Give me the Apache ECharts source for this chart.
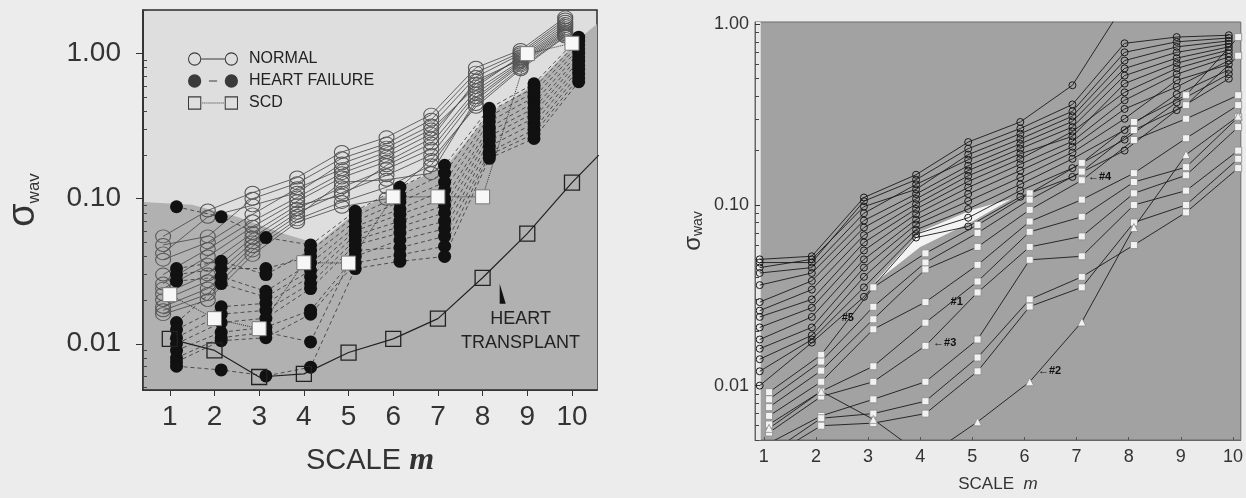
<!DOCTYPE html>
<html><head><meta charset="utf-8">
<script src="https://cdn.jsdelivr.net/npm/echarts@6/dist/echarts.min.js"></script>
<style>html,body{margin:0;padding:0;background:#ececec;}#c{width:1246px;height:498px;}</style>
</head><body><div id="c"></div>
<script>
// ================= DATA =================
const scales = [1,2,3,4,5,6,7,8,9,10];
const xTickLabels = ['1','2','3','4','5','6','7','8','9','10'];
const yMajorTicks = [0.01, 0.1, 1];
const yMinorTicks = [0.005,0.006,0.007,0.008,0.009,0.02,0.03,0.04,0.05,0.06,0.07,0.08,0.09,0.2,0.3,0.4,0.5,0.6,0.7,0.8,0.9,2];

// ---- left panel: sigma_wav per subject, scales 1..10 ----
const leftNormal = [
 [0.055,0.083,0.110,0.140,0.21,0.265,0.38,0.80,1.06,1.78],
 [0.048,0.055,0.100,0.128,0.19,0.24,0.35,0.74,1.02,1.72],
 [0.042,0.075,0.090,0.110,0.175,0.225,0.32,0.69,0.99,1.66],
 [0.038,0.050,0.078,0.118,0.16,0.21,0.30,0.59,0.96,1.60],
 [0.030,0.045,0.070,0.102,0.15,0.195,0.28,0.62,0.93,1.55],
 [0.026,0.040,0.064,0.096,0.14,0.18,0.26,0.65,0.91,1.50],
 [0.024,0.035,0.058,0.090,0.105,0.17,0.24,0.56,0.89,1.46],
 [0.022,0.030,0.054,0.085,0.12,0.16,0.22,0.53,0.87,1.42],
 [0.020,0.027,0.050,0.080,0.11,0.145,0.20,0.50,0.85,1.39],
 [0.018,0.024,0.047,0.076,0.13,0.135,0.15,0.48,0.83,1.36],
 [0.017,0.022,0.044,0.072,0.095,0.12,0.17,0.45,0.80,1.33],
 [0.016,0.020,0.041,0.069,0.088,0.10,0.185,0.43,0.78,1.31]
];
const leftHeartFailure = [
 [0.088,0.075,0.054,0.048,0.082,0.120,0.17,0.42,0.62,1.30],
 [0.033,0.037,0.030,0.044,0.076,0.105,0.15,0.40,0.58,1.22],
 [0.030,0.033,0.033,0.040,0.070,0.095,0.13,0.37,0.54,1.15],
 [0.027,0.029,0.023,0.036,0.064,0.085,0.115,0.34,0.50,1.08],
 [0.014,0.026,0.021,0.032,0.060,0.078,0.10,0.31,0.46,1.01],
 [0.0125,0.018,0.019,0.029,0.056,0.070,0.09,0.29,0.42,0.95],
 [0.011,0.016,0.017,0.026,0.052,0.064,0.08,0.27,0.39,0.89],
 [0.010,0.014,0.015,0.024,0.048,0.058,0.07,0.25,0.36,0.83],
 [0.009,0.012,0.013,0.017,0.040,0.052,0.062,0.23,0.33,0.78],
 [0.008,0.011,0.012,0.0103,0.044,0.046,0.055,0.21,0.30,0.73],
 [0.0075,0.0105,0.011,0.016,0.036,0.041,0.047,0.20,0.28,0.68],
 [0.007,0.0066,0.006,0.0069,0.033,0.037,0.040,0.19,0.26,0.64]
];
const leftSCD = [0.0218,0.0149,0.0127,0.0362,0.036,0.103,0.103,0.103,1.0,1.18];
const leftTransplant = [0.0108,0.0090,0.0059,0.0062,0.0087,0.0108,0.0149,0.0285,0.0574,0.129];
const leftTransplantEdge = [10.6, 0.20];          // where the line meets the frame
const leftShadeBoundary = [[0.4,0.095],[1.5,0.091],[2.5,0.075],[3.5,0.058],[4.3,0.049],[5.2,0.082],
  [6.2,0.122],[7.2,0.17],[8.2,0.40],[9.2,0.62],[10.2,1.3],[10.56,1.6]];
const leftNotes = [{text:'HEART\nTRANSPLANT', m:8.85, v:0.0122}];
const leftPointer = [8.45, 0.0221];

// ---- right panel ----
const rightNormal = [
 [0.050,0.052,0.110,0.147,0.223,0.288,0.46,1.30,1.90,2.50],
 [0.048,0.048,0.105,0.138,0.205,0.265,0.36,0.785,0.85,0.87],
 [0.045,0.050,0.098,0.122,0.190,0.248,0.33,0.70,0.80,0.84],
 [0.042,0.045,0.090,0.130,0.178,0.232,0.31,0.63,0.75,0.81],
 [0.036,0.042,0.082,0.115,0.165,0.218,0.29,0.57,0.70,0.78],
 [0.029,0.038,0.075,0.108,0.155,0.205,0.27,0.52,0.65,0.75],
 [0.026,0.034,0.068,0.101,0.145,0.192,0.24,0.47,0.61,0.72],
 [0.024,0.030,0.062,0.095,0.135,0.180,0.255,0.42,0.57,0.69],
 [0.021,0.027,0.056,0.089,0.125,0.168,0.225,0.38,0.53,0.66],
 [0.018,0.024,0.050,0.083,0.115,0.155,0.21,0.34,0.45,0.63],
 [0.016,0.021,0.045,0.078,0.105,0.142,0.195,0.30,0.49,0.60],
 [0.014,0.019,0.040,0.073,0.095,0.130,0.18,0.26,0.41,0.56],
 [0.012,0.018,0.035,0.069,0.085,0.120,0.16,0.23,0.37,0.53],
 [0.010,0.0173,0.031,0.066,0.076,0.111,0.143,0.20,0.335,0.50]
];
const rightHeartFailure = [
 [0.0092,0.0148,0.035,0.054,0.0775,0.116,0.171,0.288,0.405,0.85],
 [0.0084,0.0136,0.0273,0.048,0.070,0.107,0.153,0.26,0.357,0.67],
 [0.0076,0.0121,0.0233,0.044,0.0586,0.094,0.137,0.229,0.30,0.405],
 [0.0068,0.0105,0.0205,0.029,0.0466,0.081,0.107,0.15,0.234,0.357],
 [0.0061,0.0093,0.0128,0.0223,0.0377,0.071,0.086,0.134,0.162,0.306],
 [0.0055,0.0087,0.0105,0.0166,0.0328,0.0586,0.067,0.116,0.146,0.27],
 [0.0048,0.0068,0.0084,0.0105,0.018,0.0497,0.052,0.10,0.12,0.20],
 [0.0042,0.0066,0.0070,0.0082,0.0143,0.030,0.040,0.06,0.091,0.16],
 [0.0040,0.0060,0.0062,0.0070,0.012,0.0274,0.035,0.08,0.10,0.18]
];
const rightPatient2 = [0.0058,0.0093,0.0065,0.0040,0.0063,0.0105,0.0225,0.075,0.19,0.31];
const rightWedge = [[3.12,0.037],[4.0,0.071],[5.0,0.094],[5.75,0.108],[5.0,0.081],[4.0,0.0586]];
const rightNotes = [
 {text:'#1', m:4.7, v:0.029},
 {text:'←#2', m:6.48, v:0.012},
 {text:'←#3', m:4.47, v:0.0173},
 {text:'←#4', m:7.44, v:0.143},
 {text:'#5', m:2.61, v:0.0238}
];

// ================= LAYOUT / STYLE =================
const FONT = '"Liberation Sans", Arial, Helvetica, sans-serif';
const L = {x:[0.4,10.56], y:[0.0048,2.0]};
const R = {x:[0.83,10.15], y:[0.005,1.03]};
const SHIFT = {lN:-0.15, lH:0.15, lS:0, lT:0, rN:-0.08, rH:0.1};

function lineSeries(name, xi, yi, values, shift, sym, lineStyle) {
  return Object.assign({
    type:'line', name, xAxisIndex:xi, yAxisIndex:yi, clip:true, silent:true,
    data: values.map((v,i)=>[scales[i]+shift, v]),
    lineStyle
  }, sym);
}
function polygonSeries(xi, yi, pts, color) {
  return {type:'custom', xAxisIndex:xi, yAxisIndex:yi, silent:true, z:1, clip:true,
    data:[pts[0]], encode:{x:0,y:1},
    renderItem:(p, api)=>({type:'polygon', shape:{points:pts.map(q=>api.coord(q))}, style:{fill:color}})};
}

const series = [];
series.push(polygonSeries(0,0, leftShadeBoundary.concat([[L.x[1],L.y[0]],[L.x[0],L.y[0]]]), '#b1b1b1'));
leftNormal.forEach(r=>series.push(lineSeries('NORMAL',0,0,r,SHIFT.lN,
  {symbol:'circle', symbolSize:[15,13], itemStyle:{color:'rgba(0,0,0,0)', borderColor:'#555', borderWidth:1}},
  {color:'#444', width:0.8})));
leftHeartFailure.forEach(r=>series.push(lineSeries('HEART FAILURE',0,0,r,SHIFT.lH,
  {symbol:'circle', symbolSize:13, itemStyle:{color:'#111', borderWidth:0}},
  {color:'#333', width:0.8, type:[4,3]})));
series.push(lineSeries('SCD',0,0,leftSCD,SHIFT.lS,
  {symbol:'rect', symbolSize:14, itemStyle:{color:'#f7f7f7', borderColor:'#777', borderWidth:1}},
  {color:'#333', width:1, type:'dotted'}));
const ht = lineSeries('HEART TRANSPLANT',0,0,leftTransplant,SHIFT.lT,
  {symbol:'rect', symbolSize:15, itemStyle:{color:'rgba(0,0,0,0)', borderColor:'#222', borderWidth:1.3}},
  {color:'#222', width:1.2});
ht.data.push({value:leftTransplantEdge, symbol:'none'});
ht.markPoint = {silent:true, animation:false, data:[
  ...leftNotes.map(n=>({coord:[n.m,n.v], symbol:'rect', symbolSize:1, itemStyle:{color:'rgba(0,0,0,0)'},
    label:{show:true, position:'inside', formatter:n.text, fontSize:18, lineHeight:24, color:'#222', fontFamily:FONT}})),
  {coord:leftPointer, symbol:'path://M0,0L0,22L7,22Z', symbolSize:[6,20], itemStyle:{color:'#111'}, label:{show:false}}
]};
series.push(ht);

// right panel (yAxisIndex 2 = main log axis of the right grid)
series.push(polygonSeries(1,2, rightWedge, '#f3f3f3'));
rightNormal.forEach((r,k)=>{
  const s = lineSeries('R normal',1,2,r,SHIFT.rN,
    {symbol:'circle', symbolSize:7, itemStyle:{color:'rgba(0,0,0,0)', borderColor:'#1a1a1a', borderWidth:1}},
    {color:'#1a1a1a', width:0.9});
  if (k===0) s.markArea = {silent:true, itemStyle:{color:'#e9e9e9'}, data:[[{xAxis:R.x[0]},{xAxis:0.94}]]};
  series.push(s);
});
rightHeartFailure.forEach(r=>series.push(lineSeries('R hf',1,2,r,SHIFT.rH,
  {symbol:'rect', symbolSize:7, itemStyle:{color:'#f2f2f2', borderColor:'#8a8a8a', borderWidth:0.8}},
  {color:'#1a1a1a', width:0.9})));
const p2 = lineSeries('R hf2',1,2,rightPatient2,SHIFT.rH,
  {symbol:'triangle', symbolSize:8, itemStyle:{color:'#f2f2f2', borderColor:'#8a8a8a', borderWidth:0.8}},
  {color:'#1a1a1a', width:0.9});
p2.markPoint = {silent:true, animation:false, data: rightNotes.map(n=>({coord:[n.m,n.v], symbol:'rect', symbolSize:1,
  itemStyle:{color:'rgba(0,0,0,0)'}, label:{show:true, position:'inside', formatter:n.text, fontSize:11, fontWeight:'bold', color:'#111', fontFamily:FONT}}))};
series.push(p2);

// legend icons (50 x 14)
function ring(cx){return `M${cx-6.5},7A6.5,6.5,0,1,1,${cx+6.5},7A6.5,6.5,0,1,1,${cx-6.5},7ZM${cx-5.5},7A5.5,5.5,0,1,0,${cx+5.5},7A5.5,5.5,0,1,0,${cx-5.5},7Z`;}
function disc(cx){return `M${cx-6.5},7A6.5,6.5,0,1,1,${cx+6.5},7A6.5,6.5,0,1,1,${cx-6.5},7Z`;}
function sq(x){return `M${x},0.5L${x+13},0.5L${x+13},13.5L${x},13.5ZM${x+1},1.5L${x+1},12.5L${x+12},12.5L${x+12},1.5Z`;}
const iconNormal = 'path://' + ring(7) + 'M13.5,6.5L36.5,6.5L36.5,7.5L13.5,7.5Z' + ring(43);
const iconHF = 'path://' + disc(7) + 'M21,6.4L29,6.4L29,7.6L21,7.6Z' + disc(43);
let dots = ''; for (let x=14.5; x<35.5; x+=2) dots += `M${x},6.5L${x+1},6.5L${x+1},7.5L${x},7.5Z`;
const iconSCD = 'path://' + sq(0.5) + dots + sq(36.5);

function yAxes(grid, rng, major, labelFont, margin, nameOpts) {
  return [
    Object.assign({type:'log', gridIndex:grid, position:'left', z:5, min:rng[0], max:rng[1],
      axisLine:{show:true, lineStyle:{color: grid===0?'#2a2a2a':'#666', width: grid===0?1.5:1}},
      axisTick:{show:true, customValues:major, length: grid===0?7:5, inside: grid!==0, lineStyle:{color:'#333'}},
      axisLabel:{customValues:major, formatter:v=>v.toFixed(2), fontSize:labelFont, color:'#333', margin, fontFamily:FONT},
      splitLine:{show:false}, nameLocation:'middle', nameRotate:90}, nameOpts),
    {type:'log', gridIndex:grid, position:'left', offset:0, z:5, min:rng[0], max:rng[1], axisLine:{show:false},
      axisTick:{show:true, customValues:yMinorTicks, inside:true, length:4, lineStyle:{color:'#444'}},
      axisLabel:{show:false}, splitLine:{show:false}}
  ];
}

const option = {
  animation:false,
  backgroundColor:'#ececec',
  textStyle:{fontFamily:FONT},
  grid:[
    {left:143, top:10, width:454, height:380, show:true, backgroundColor:'#dedede', borderColor:'#2a2a2a', borderWidth:1.5},
    {left:755, top:22, width:487, height:418, show:true, backgroundColor:'#a2a2a2', borderColor:'#6a6a6a', borderWidth:1}
  ],
  legend:{left:183, top:46, orient:'vertical', itemWidth:50, itemHeight:14, itemGap:6, selectedMode:false,
    itemStyle:{color:'#3a3a3a', borderWidth:0},
    textStyle:{fontSize:16, color:'#222', fontFamily:FONT, padding:[0,0,0,6]},
    data:[{name:'NORMAL', icon:iconNormal},{name:'HEART FAILURE', icon:iconHF},{name:'SCD', icon:iconSCD}]},
  xAxis:[
    {type:'value', gridIndex:0, z:5, min:L.x[0], max:L.x[1],
      axisLine:{show:true, lineStyle:{color:'#2a2a2a', width:1.5}},
      axisTick:{customValues:scales, length:6, lineStyle:{color:'#333'}},
      axisLabel:{customValues:scales, formatter:v=>xTickLabels[scales.indexOf(v)], fontSize:28, color:'#333', margin:13},
      splitLine:{show:false},
      name:'{a|SCALE }{b|m}', nameLocation:'middle', nameGap:55,
      nameTextStyle:{rich:{a:{fontSize:29, color:'#333', fontFamily:FONT}, b:{fontSize:32, color:'#333', fontFamily:'"Liberation Serif", serif', fontStyle:'italic', fontWeight:'bold'}}}},
    {type:'value', gridIndex:1, z:5, min:R.x[0], max:R.x[1],
      axisLine:{show:true, lineStyle:{color:'#666', width:1}},
      axisTick:{customValues:scales, length:3, inside:true, lineStyle:{color:'#555'}},
      axisLabel:{customValues:scales, formatter:v=>xTickLabels[scales.indexOf(v)], fontSize:18, color:'#333', margin:8},
      splitLine:{show:false},
      name:'{a|SCALE  }{b|m}', nameLocation:'middle', nameGap:36,
      nameTextStyle:{rich:{a:{fontSize:17, color:'#333', fontFamily:FONT}, b:{fontSize:17, color:'#333', fontFamily:FONT, fontStyle:'italic'}}}}
  ],
  yAxis:[
    ...yAxes(0, L.y, yMajorTicks, 28, 22, {name:'{s|σ}{w|wav}', nameGap:100,
      nameTextStyle:{rich:{s:{fontSize:38, color:'#333', fontFamily:FONT}, w:{fontSize:17, color:'#333', fontFamily:FONT, verticalAlign:'bottom'}}}}),
    ...yAxes(1, R.y, yMajorTicks, 18, 6, {name:'{s|σ}{w|wav}', nameGap:50,
      nameTextStyle:{rich:{s:{fontSize:24, color:'#333', fontFamily:FONT}, w:{fontSize:14, color:'#333', fontFamily:FONT, verticalAlign:'bottom'}}}})
  ],
  series
};
const chart = echarts.init(document.getElementById('c'), null, {renderer:'canvas'});
chart.setOption(option);
</script></body></html>
